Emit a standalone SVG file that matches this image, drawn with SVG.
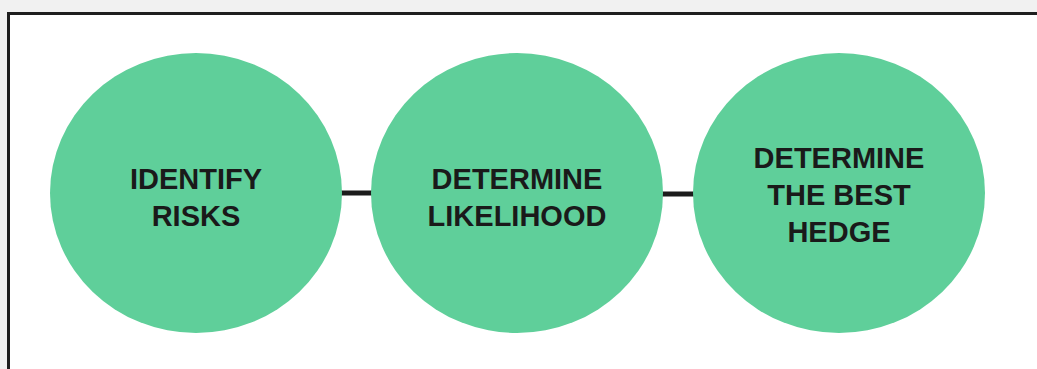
<svg xmlns="http://www.w3.org/2000/svg" width="1037" height="369" viewBox="0 0 1037 369">
  <style>
    .node { fill: #5fcf9a; }
    .label { font-family: "Liberation Sans", Arial, sans-serif; font-weight: bold; font-size: 29px; fill: #1a1a1a; text-anchor: middle; }
    .conn { stroke: #1c1c1c; stroke-width: 5; }
  </style>
  <rect x="0" y="0" width="1037" height="369" fill="#f1f1f1"/>
  <rect x="8.5" y="13.5" width="1100" height="400" fill="#ffffff" stroke="#1e1e1e" stroke-width="3"/>
  <g id="connectors">
    <line class="conn" x1="340" y1="193" x2="374" y2="193"/>
    <line class="conn" x1="661" y1="194" x2="695" y2="194"/>
  </g>
  <g id="node-identify">
    <ellipse class="node" cx="196" cy="193" rx="146" ry="140"/>
    <text class="label" x="196" y="189">IDENTIFY</text>
    <text class="label" x="196" y="226">RISKS</text>
  </g>
  <g id="node-likelihood">
    <ellipse class="node" cx="517" cy="193" rx="146" ry="140"/>
    <text class="label" x="517" y="189">DETERMINE</text>
    <text class="label" x="517" y="226">LIKELIHOOD</text>
  </g>
  <g id="node-hedge">
    <ellipse class="node" cx="839" cy="193" rx="146" ry="140"/>
    <text class="label" x="839" y="168">DETERMINE</text>
    <text class="label" x="839" y="205">THE BEST</text>
    <text class="label" x="839" y="242">HEDGE</text>
  </g>
</svg>
